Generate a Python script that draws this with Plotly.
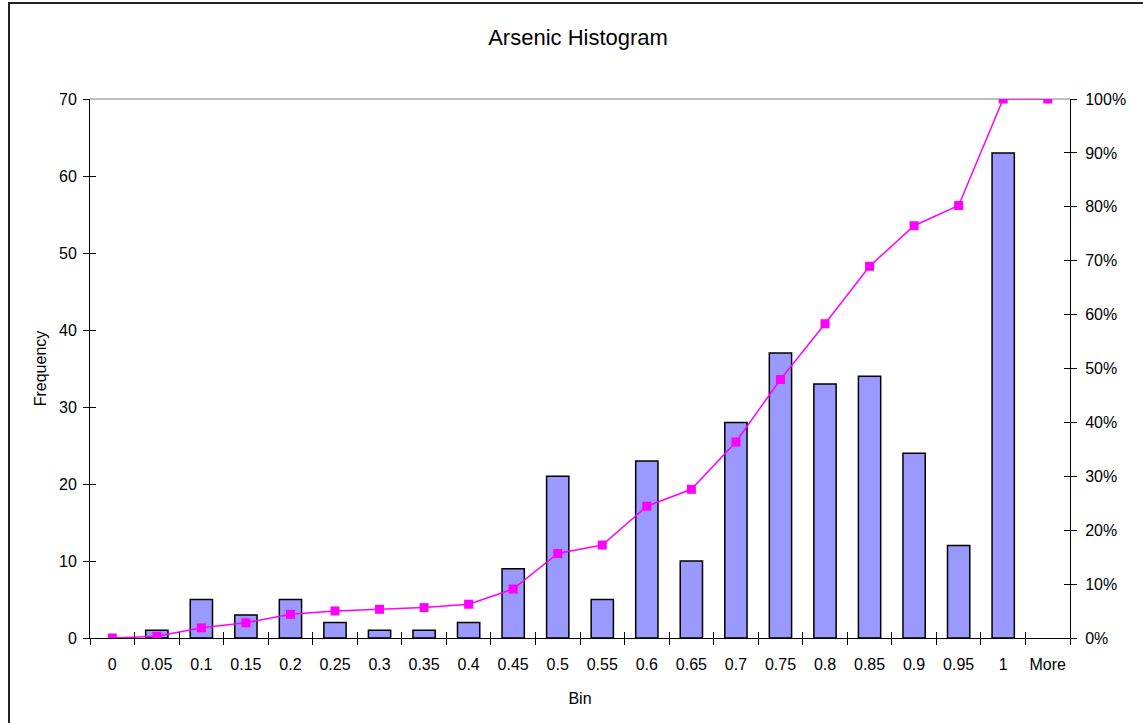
import numpy as np
import plotly.graph_objects as go

# Bin labels and frequency counts
bins = ["0", "0.05", "0.1", "0.15", "0.2", "0.25", "0.3", "0.35", "0.4", "0.45", "0.5",
        "0.55", "0.6", "0.65", "0.7", "0.75", "0.8", "0.85", "0.9", "0.95", "1", "More"]
frequency = [0, 1, 5, 3, 5, 2, 1, 1, 2, 9, 21, 5, 23, 10, 28, 37, 33, 34, 24, 12, 63, 0]

# Cumulative share of observations up to each bin
cumulative_pct = list(np.cumsum(frequency) / np.sum(frequency))

freq_ticks = [0, 10, 20, 30, 40, 50, 60, 70]
pct_ticks = [0, 0.1, 0.2, 0.3, 0.4, 0.5, 0.6, 0.7, 0.8, 0.9, 1.0]

FONT = "Liberation Sans, Arial, sans-serif"
TICK_SIZE = 16

# Empty bins get no outline so nothing is drawn for them
outline_widths = [1.5 if f > 0 else 0 for f in frequency]

fig = go.Figure()
fig.add_trace(go.Bar(
    x=bins, y=frequency, name="Frequency",
    marker=dict(color="#9999FF", line=dict(color="#000000", width=outline_widths)),
    yaxis="y",
))
fig.add_trace(go.Scatter(
    x=bins, y=cumulative_pct, name="Cumulative %", mode="lines+markers",
    line=dict(color="#FF00FF", width=1.5),
    marker=dict(symbol="square", size=9, color="#FF00FF"),
    yaxis="y2",
))

W, H = 1143, 723
ml, mr, mt, mb = 90, 73, 99, 85

axis_common = dict(showgrid=False, zeroline=False, linecolor="#000000", linewidth=1,
                   tickcolor="#000000", tickwidth=1, ticklen=6, automargin=False,
                   tickfont=dict(family=FONT, size=TICK_SIZE, color="#000000"))

fig.update_layout(
    width=W, height=H,
    margin=dict(l=ml, r=mr, t=mt, b=mb),
    paper_bgcolor="#FFFFFF", plot_bgcolor="#FFFFFF",
    showlegend=False,
    bargap=0.5,
    title=dict(text="Arsenic Histogram", xref="paper", x=0.498, xanchor="center",
               y=1 - 37 / H, yanchor="middle",
               font=dict(family=FONT, size=22, color="#000000")),
    xaxis=dict(axis_common, type="category", range=[-0.5, len(bins) - 0.5],
               tickson="boundaries", ticks="outside", showline=True, tickangle=0,
               ticklabelstandoff=12,
               title=dict(text="Bin", font=dict(family=FONT, size=TICK_SIZE, color="#000000"),
                          standoff=20)),
    yaxis=dict(axis_common, range=[0, 70], tickvals=freq_ticks, ticks="outside",
               showline=True, ticklabelstandoff=3,
               title=dict(text="Frequency", font=dict(family=FONT, size=TICK_SIZE, color="#000000"),
                          standoff=8)),
    yaxis2=dict(axis_common, range=[0, 1], tickvals=pct_ticks, tickformat=".0%",
                overlaying="y", side="right", ticks="outside", showline=True,
                ticklabelstandoff=5),
    # Inner halves of the crossing tick marks
    xaxis3=dict(axis_common, type="category", range=[-0.5, len(bins) - 0.5],
                tickson="boundaries", ticks="inside", showline=False,
                showticklabels=False, overlaying="x", anchor="y"),
    yaxis3=dict(axis_common, range=[0, 70], tickvals=freq_ticks, ticks="inside",
                showline=False, showticklabels=False, overlaying="y", side="left",
                anchor="x"),
    yaxis4=dict(axis_common, range=[0, 1], tickvals=pct_ticks, ticks="inside",
                showline=False, showticklabels=False, overlaying="y", side="right",
                anchor="x"),
)

# Invisible carriers so the overlay tick axes are rendered
fig.add_trace(go.Scatter(x=bins, y=[None] * len(bins), xaxis="x3", yaxis="y3",
                         mode="lines", hoverinfo="skip", showlegend=False))
fig.add_trace(go.Scatter(x=bins, y=[None] * len(bins), xaxis="x3", yaxis="y4",
                         mode="lines", hoverinfo="skip", showlegend=False))

# Plot-area top border
fig.add_shape(type="line", xref="paper", yref="paper", x0=0, x1=1, y0=1, y1=1,
              line=dict(color="#808080", width=1), layer="below")

# Chart-area frame
pw, ph = W - ml - mr, H - mt - mb
fig.add_shape(type="rect", xref="paper", yref="paper",
              x0=(9 - ml) / pw, x1=1.2, y0=-0.3, y1=1 + (mt - 3) / ph,
              line=dict(color="#222222", width=2), fillcolor="rgba(0,0,0,0)")

fig.write_html("out.html")
